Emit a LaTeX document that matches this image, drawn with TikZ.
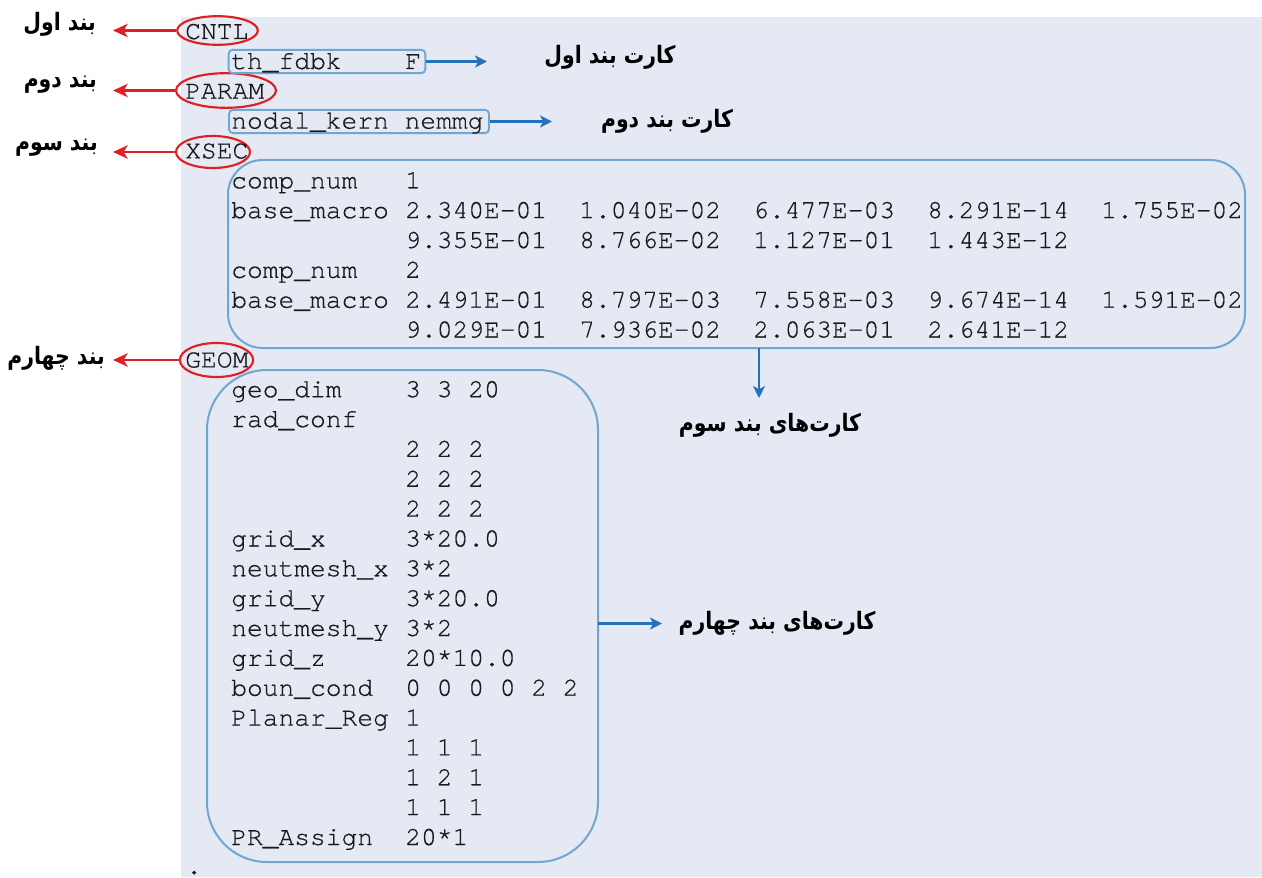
\documentclass[tikz,border=0pt]{standalone}
\usepackage{fontspec}
\setmonofont[FakeBold=0.6]{TeX Gyre Cursor}
\newfontfamily\arabicfont[Script=Arabic,FakeStretch=0.85]{DejaVu Sans}
\TeXXeTstate=1
\usetikzlibrary{arrows.meta,shapes.geometric}
\definecolor{panel}{RGB}{228,233,243}
\definecolor{boxline}{RGB}{112,166,210}
\definecolor{arrowblue}{RGB}{38,114,186}
\definecolor{redline}{RGB}{222,32,36}
\tikzset{
  code/.style={font=\ttfamily\fontsize{19.7}{20}\selectfont, anchor=base west, inner sep=0pt, text=black!90},
  kwring/.style={draw=redline, line width=1.6pt, ellipse, inner sep=0pt},
  redarrow/.style={draw=redline, line width=1.6pt, -{Stealth[length=11pt,width=10pt,inset=3pt]}},
  bluearrow/.style={draw=arrowblue, line width=1.6pt, -{Stealth[length=9pt,width=9pt,inset=2.5pt]}},
  smallbox/.style={draw=boxline, line width=1.4pt, rounded corners=3pt, inner sep=0pt},
  bigbox/.style={draw=boxline, line width=1.5pt, inner sep=0pt},
  persian/.style={font=\arabicfont\bfseries\fontsize{18}{20}\selectfont, inner sep=0pt, text=black}
}
\begin{document}
\begin{tikzpicture}[x=0.75pt,y=-0.75pt]
\useasboundingbox (0,0) rectangle (1262,877);
\fill[panel] (181,17) rectangle (1262,877);

% ---- keywords with red rings
\node[kwring, minimum width=60.5pt, minimum height=21.5pt] (cntlE) at (217.5,30.5) {};
\node[kwring, minimum width=75pt, minimum height=26pt] (paramE) at (226,90.5) {};
\node[kwring, minimum width=55.5pt, minimum height=24pt] (xsecE) at (213,152) {};
\node[kwring, minimum width=55pt, minimum height=25.5pt] (geomE) at (216.5,360) {};

\node[code] (cntl) at (185,39) {CNTL};
\node[code] (param) at (185,98.7) {PARAM};
\node[code] (xsec) at (185,158.4) {XSEC};
\node[code] (geom) at (185,367.4) {GEOM};

% ---- left labels
\node[persian, anchor=east] (lab1) at (96,24) {\beginR بند اول\endR};
\node[persian, anchor=east] (lab2) at (97,85) {\beginR بند دوم\endR};
\node[persian, anchor=east] (lab3) at (98,148) {\beginR بند سوم\endR};
\node[persian, anchor=east] (lab4) at (105,358) {\beginR بند چهارم\endR};
\coordinate (t1) at (113,28.5);
\coordinate (t2) at (113,89);
\coordinate (t3) at (113,152);
\coordinate (t4) at (113,360);
\draw[redarrow] (cntlE.west) -- (cntlE.west -| t1);
\draw[redarrow] (paramE.west) -- (paramE.west -| t2);
\draw[redarrow] (xsecE.west) -- (xsecE.west -| t3);
\draw[redarrow] (geomE.west) -- (geomE.west -| t4);

% ---- CNTL card
\node[smallbox, minimum width=147.5pt, minimum height=17.5pt] (b1) at (327,61.5) {};
\node[code] (c1a) at (231,69) {th\_fdbk};
\node[code] (c1b) at (405,69) {F};
\coordinate (a1) at (487,61.5);
\draw[bluearrow] (b1.east) -- (a1);
\node[persian] (card1) at (610,57) {\beginR کارت بند اول\endR};

% ---- PARAM card
\node[smallbox, minimum width=195pt, minimum height=17.5pt] (b2) at (359,121.5) {};
\node[code] (c2a) at (231,128.6) {nodal\_kern nemmg};
\coordinate (a2) at (552,121.5);
\draw[bluearrow] (b2.east) -- (a2);
\node[persian] (card2) at (667,121) {\beginR کارت بند دوم\endR};

% ---- XSEC cards
\draw[bigbox, rounded corners=26pt] (228,160) rectangle (1245,348);
\coordinate (xbot) at (759,348);
\node[code] (x1) at (231,188.3) {comp\_num};
\node[code] (x1v) at (405,188.3) {1};
\node[code] (x2) at (231,218.1) {base\_macro};
\node[code] (x2a) at (405,218.1) {2.340E-01};
\node[code] (x2b) at (579,218.1) {1.040E-02};
\node[code] (x2c) at (753,218.1) {6.477E-03};
\node[code] (x2d) at (927,218.1) {8.291E-14};
\node[code] (x2e) at (1101,218.1) {1.755E-02};
\node[code] (x3a) at (405,248) {9.355E-01};
\node[code] (x3b) at (579,248) {8.766E-02};
\node[code] (x3c) at (753,248) {1.127E-01};
\node[code] (x3d) at (927,248) {1.443E-12};
\node[code] (x4) at (231,277.8) {comp\_num};
\node[code] (x4v) at (405,277.8) {2};
\node[code] (x5) at (231,307.7) {base\_macro};
\node[code] (x5a) at (405,307.7) {2.491E-01};
\node[code] (x5b) at (579,307.7) {8.797E-03};
\node[code] (x5c) at (753,307.7) {7.558E-03};
\node[code] (x5d) at (927,307.7) {9.674E-14};
\node[code] (x5e) at (1101,307.7) {1.591E-02};
\node[code] (x6a) at (405,337.5) {9.029E-01};
\node[code] (x6b) at (579,337.5) {7.936E-02};
\node[code] (x6c) at (753,337.5) {2.063E-01};
\node[code] (x6d) at (927,337.5) {2.641E-12};
\coordinate (a3) at (759,398);
\draw[bluearrow] (xbot) -- (a3);
\node[persian] (card3) at (770,425) {\beginR کارت‌های بند سوم\endR};

% ---- GEOM cards
\draw[bigbox, rounded corners=45pt] (207,370) rectangle (598,862);
\coordinate (gright) at (598,623.5);
\node[code] (g1) at (231,397.2) {geo\_dim};
\node[code] (g1v) at (405,397.2) {3 3 20};
\node[code] (g2) at (231,427) {rad\_conf};
\node[code] (g3) at (405,456.9) {2 2 2};
\node[code] (g4) at (405,486.8) {2 2 2};
\node[code] (g5) at (405,516.6) {2 2 2};
\node[code] (g6) at (231,546.5) {grid\_x};
\node[code] (g6v) at (405,546.5) {3*20.0};
\node[code] (g7) at (231,576.3) {neutmesh\_x};
\node[code] (g7v) at (405,576.3) {3*2};
\node[code] (g8) at (231,606.2) {grid\_y};
\node[code] (g8v) at (405,606.2) {3*20.0};
\node[code] (g9) at (231,636) {neutmesh\_y};
\node[code] (g9v) at (405,636) {3*2};
\node[code] (g10) at (231,665.9) {grid\_z};
\node[code] (g10v) at (405,665.9) {20*10.0};
\node[code] (g11) at (231,695.7) {boun\_cond};
\node[code] (g11v) at (405,695.7) {0 0 0 0 2 2};
\node[code] (g12) at (231,725.6) {Planar\_Reg};
\node[code] (g12v) at (405,725.6) {1};
\node[code] (g13) at (405,755.4) {1 1 1};
\node[code] (g14) at (405,785.3) {1 2 1};
\node[code] (g15) at (405,815.1) {1 1 1};
\node[code] (g16) at (231,845) {PR\_Assign};
\node[code] (g16v) at (405,845) {20*1};
\coordinate (a4) at (662,623.5);
\draw[bluearrow] (gright) -- (a4);
\node[persian] (card4) at (777,623) {\beginR کارت‌های بند چهارم\endR};

\node[code] (dot) at (186,874) {.};
\end{tikzpicture}
\end{document}
